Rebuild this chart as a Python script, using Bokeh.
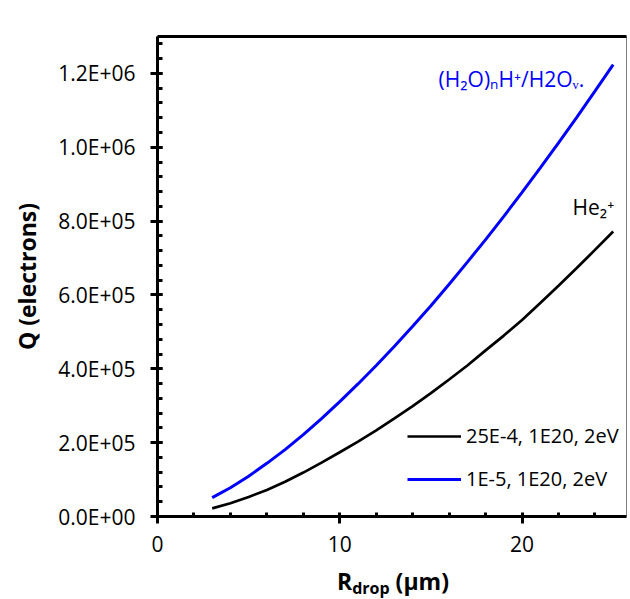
from bokeh.plotting import figure
from bokeh.models import FixedTicker, Legend, LegendItem, Label, LinearAxis, Range1d, Div
from bokeh.layouts import column
from bokeh.core.properties import value
from bokeh.embed import file_html
from bokeh.resources import INLINE

# ---- data ----
r_drop = [3, 4, 5, 6, 7, 8, 9, 10, 11, 12, 13, 14, 15, 16, 17, 18, 19, 20, 21, 22, 23, 24, 25]
q_he2 = [22000, 36000, 53000, 72000, 94000, 119000, 146000, 174000, 203000, 233000, 266000, 299000,
         334000, 371000, 409000, 450000, 490000, 532000, 578000, 625000, 673000, 722000, 772000]
q_h2o = [51000, 78000, 109000, 144000, 181000, 222000, 265000, 311000, 359000, 409000, 461000, 515000,
         571000, 629000, 689000, 750000, 813000, 878000, 944000, 1012000, 1081000, 1152000, 1224000]

series_labels = ["25E-4, 1E20, 2eV", "1E-5, 1E20, 2eV"]
x_major = [0, 10, 20]
x_minor = [2, 4, 6, 8, 12, 14, 16, 18, 22, 24]
y_major = [0, 200000, 400000, 600000, 800000, 1000000, 1200000]
y_major_labels = ["0.0E+00", "2.0E+05", "4.0E+05", "6.0E+05", "8.0E+05", "1.0E+06", "1.2E+06"]
y_minor = [i * 40000 for i in range(0, 33)]

FONT = "Open Sans"
BLUE = "#0000ff"

p = figure(width=630, height=566, output_backend="svg", toolbar_location=None,
           x_range=Range1d(0, 25.73), y_range=Range1d(0, 1.3e6),
           min_border_left=157, min_border_right=4, min_border_top=36, min_border_bottom=50)
p.xgrid.visible = False
p.ygrid.visible = False
p.outline_line_color = "#808080"
p.outline_line_width = 1
p.background_fill_color = "white"
p.border_fill_color = "white"

r_black = p.line(r_drop, q_he2, line_color="black", line_width=2.7)
r_blue = p.line(r_drop, q_h2o, line_color=BLUE, line_width=3)

# x axis
xa = p.xaxis[0]
xa.ticker = FixedTicker(ticks=x_major, minor_ticks=x_minor)
xa.axis_line_width = 3
xa.major_tick_line_width = 3
xa.minor_tick_line_width = 3
xa.major_tick_out = 7
xa.major_tick_in = 4
xa.minor_tick_out = 0
xa.minor_tick_in = 4
xa.major_label_text_font = FONT
xa.major_label_text_font_size = "21px"
xa.major_label_text_color = "black"
xa.major_label_standoff = 12

# y axis
ya = p.yaxis[0]
ya.ticker = FixedTicker(ticks=y_major, minor_ticks=y_minor)
ya.major_label_overrides = {t: s for t, s in zip(y_major, y_major_labels)}
ya.axis_line_width = 3
ya.major_tick_line_width = 3
ya.minor_tick_line_width = 3
ya.major_tick_out = 7
ya.major_tick_in = 5
ya.minor_tick_out = 0
ya.minor_tick_in = 5
ya.major_label_text_font = FONT
ya.major_label_text_font_size = "21px"
ya.major_label_text_color = "black"
ya.major_label_standoff = 15
ya.axis_label = "Q (electrons)"
ya.axis_label_text_font = FONT
ya.axis_label_text_font_size = "23px"
ya.axis_label_text_font_style = "bold"
ya.axis_label_text_color = "black"
ya.axis_label_standoff = 12

# thick top border
top_axis = LinearAxis(ticker=FixedTicker(ticks=[]), axis_line_width=3,
                      major_tick_line_color=None, minor_tick_line_color=None,
                      major_label_text_font_size="0px")
p.add_layout(top_axis, "above")

# curve annotations
p.add_layout(Label(x=r_drop[-1], y=q_h2o[-1], text="(H\u2082O)\u2099H\u207a/H2O\u1d65.",
                   text_align="right", text_baseline="alphabetic", x_offset=-29, y_offset=-14,
                   text_color=BLUE, text_font=FONT, text_font_size="21px"))
p.add_layout(Label(x=r_drop[-1], y=q_he2[-1], text="He\u2082\u207a",
                   text_align="right", text_baseline="alphabetic", x_offset=1, y_offset=24,
                   text_color="black", text_font=FONT, text_font_size="21px"))

legend = Legend(items=[LegendItem(label=value(series_labels[0]), renderers=[r_black]),
                       LegendItem(label=value(series_labels[1]), renderers=[r_blue])],
                location=(250, 24), border_line_color=None, background_fill_alpha=0,
                label_text_font=FONT, label_text_font_size="20px", label_text_color="black",
                glyph_width=54, glyph_height=20, label_height=20, spacing=16,
                padding=0, margin=0, label_standoff=5)
p.add_layout(legend)

# x-axis title with subscript, as real HTML text below the chart
xtitle = Div(text='R<span style="font-size:16px; position:relative; top:4px; line-height:0;">drop</span> (\u03bcm)',
             width=630, height=33, margin=0,
             styles={"font-family": FONT, "font-size": "23px", "font-weight": "bold",
                     "color": "black", "line-height": "30px", "padding-left": "337px",
                     "box-sizing": "border-box", "white-space": "nowrap"})

layout = column(p, xtitle, spacing=0)
open("out.html", "w").write(file_html(layout, INLINE))
